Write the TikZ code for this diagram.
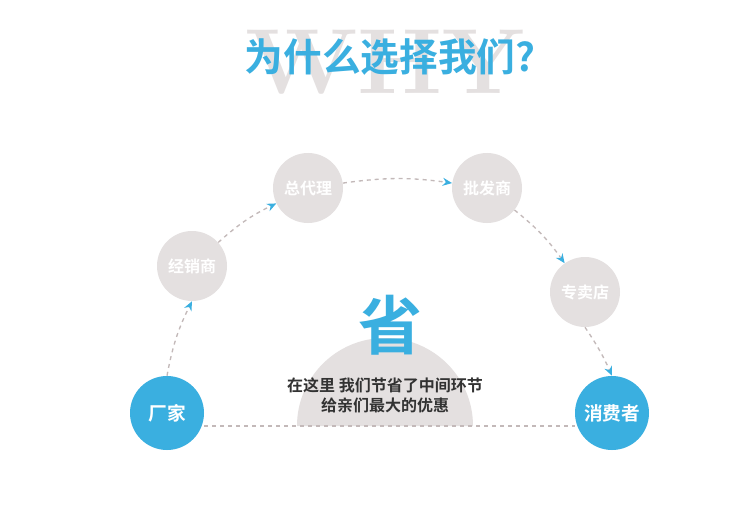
\documentclass[tikz,border=0pt]{standalone}
\usepackage{fontspec}
\newfontfamily\cjk{Noto Sans CJK SC}[BoldFont={* Bold}]
\usetikzlibrary{arrows.meta}
\definecolor{bl}{RGB}{58,175,224}
\definecolor{gr}{RGB}{228,224,224}
\definecolor{dg}{RGB}{195,185,185}
\definecolor{tx}{RGB}{50,50,50}
\begin{document}
\begin{tikzpicture}[x=0.75pt,y=-0.75pt,
  grc/.style={circle,fill=gr,minimum size=70pt*0.75,inner sep=0,text=white,font=\cjk\bfseries\fontsize{12}{12}\selectfont},
  blc/.style={circle,fill=bl,minimum size=74pt*0.75,inner sep=0,text=white,font=\cjk\bfseries\fontsize{14}{14}\selectfont},
  con/.style={dg,dashed,line width=1pt,-{Stealth[length=7pt,width=6pt,bl]}}]
\useasboundingbox (0,0) rectangle (754,510);
\fill[white] (0,0) rectangle (754,510);
\node[text=gr,font=\fontsize{66}{66}\selectfont\bfseries,yscale=1.05,xscale=1.1] (why) at (385,62) {WHY};
\node[text=bl,font=\cjk\bfseries\fontsize{29}{29}\selectfont] (title) at (390,57) {为什么选择我们?};
\fill[gr] (297,426) arc[start angle=180,end angle=360,radius=88];
\node[text=bl,font=\cjk\bfseries\fontsize{48}{48}\selectfont] (sheng) at (390,325) {省};
\node[text=tx,font=\cjk\bfseries\fontsize{12}{15}\selectfont,align=center] (desc) at (385,395) {在这里 我们节省了中间环节\\给亲们最大的优惠};
\node[blc] (a) at (167,413) {厂家};
\node[blc] (f) at (612,413) {消费者};
\node[grc] (b) at (192,266) {经销商};
\node[grc] (c) at (308,188) {总代理};
\node[grc] (d) at (487,188) {批发商};
\node[grc] (e) at (585,292) {专卖店};
\draw[dg,dashed,line width=1pt] (a.east|-0,426) -- (f.west|-0,426);
\draw[con] (a.north) to[bend left=8] (b.south);
\draw[con] (b) to[bend left=8] (c);
\draw[con] (c) to[bend left=8] (d);
\draw[con] (d) to[bend left=8] (e);
\draw[con] (e.south) to[bend left=5] (f.north);
\end{tikzpicture}
\end{document}
